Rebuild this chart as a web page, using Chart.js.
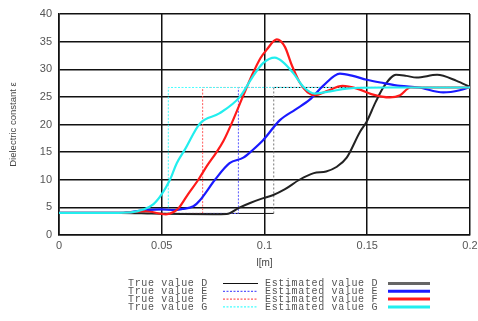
<!DOCTYPE html>
<html>
<head>
<meta charset="utf-8">
<script src="https://cdn.jsdelivr.net/npm/chart.js@4.4.0/dist/chart.umd.min.js"></script>
<style>
  body { margin: 0; background: #fff; }
</style>
</head>
<body>
<canvas id="dielChart" width="478" height="321"></canvas>
<script>
// x positions [m] and dielectric constant values
const estDX = [0, 0.03, 0.045, 0.06, 0.075, 0.0816, 0.088, 0.093, 0.098, 0.104, 0.11, 0.117, 0.124, 0.13, 0.135, 0.14, 0.1465, 0.1497, 0.154, 0.158, 0.164, 0.169, 0.174, 0.184, 0.1935, 0.2];
const estDY = [4, 4, 3.9, 3.8, 3.75, 3.8, 5, 5.8, 6.5, 7.2, 8.3, 10, 11.2, 11.5, 12.3, 14, 18.7, 20.5, 24, 26.8, 29, 28.8, 28.5, 29, 27.9, 26.8];

const estEX = [0, 0.03, 0.042, 0.05, 0.056, 0.06, 0.0654, 0.0686, 0.0759, 0.083, 0.0897, 0.094, 0.0994, 0.1075, 0.115, 0.122, 0.1285, 0.1367, 0.143, 0.1497, 0.158, 0.166, 0.175, 0.187, 0.195, 0.2];
const estEY = [4, 4, 4.5, 4.65, 4.5, 4.7, 5.2, 6.3, 10, 13, 14, 15.3, 17.2, 20.8, 22.7, 24.5, 27, 29.2, 28.8, 28.1, 27.5, 27, 26.7, 25.8, 26.2, 26.8];

const estFX = [0, 0.03, 0.042, 0.052, 0.056, 0.0585, 0.063, 0.0678, 0.072, 0.0767, 0.08, 0.0847, 0.0894, 0.094, 0.098, 0.101, 0.106, 0.11, 0.113, 0.117, 0.121, 0.1246, 0.13, 0.138, 0.145, 0.152, 0.161, 0.166, 0.171, 0.18, 0.2];
const estFY = [4, 4, 4.3, 3.75, 4.2, 5, 7.5, 10, 12.5, 15, 17, 20.8, 25, 29, 32, 33.5, 35.4, 34, 31, 27.7, 25.8, 25.3, 26, 27, 26.5, 25.5, 24.9, 25.3, 26.7, 26.7, 26.7];

const estGX = [0, 0.02, 0.035, 0.041, 0.046, 0.05, 0.054, 0.0573, 0.0613, 0.0686, 0.078, 0.088, 0.094, 0.0993, 0.105, 0.109, 0.114, 0.119, 0.1246, 0.132, 0.14, 0.16, 0.2];
const estGY = [4, 4, 4.1, 4.6, 5.6, 7.4, 10, 13, 15.5, 20.2, 22, 25, 28.5, 31.1, 32.1, 31.3, 29.3, 26.8, 25.6, 26, 26.5, 26.7, 26.7];

// true profiles: low value, step position, high value
const trueLow = 3.9;
const trueHigh = 26.7;
const stepD = 0.1045;
const stepE = 0.0873;
const stepF = 0.0699;
const stepG = 0.0532;
const xEnd = 0.2;

const xTicks = [0, 0.05, 0.1, 0.15, 0.2];

function pts(xs, ys) {
  return xs.map((x, i) => ({ x: x, y: ys[i] }));
}
function stepPts(s) {
  return pts([0, s, s, xEnd], [trueLow, trueLow, trueHigh, trueHigh]);
}

const vertDash = {
  borderDash: ctx => ctx.p0.parsed.x === ctx.p1.parsed.x ? [2, 2] : undefined,
  borderColor: ctx => ctx.p0.parsed.x === ctx.p1.parsed.x ? '#777' : undefined
};

const datasets = [
  { label: 'Estimated value G', data: pts(estGX, estGY), borderColor: '#22eeee', borderWidth: 2.2, cubicInterpolationMode: 'monotone' },
  { label: 'Estimated value F', data: pts(estFX, estFY), borderColor: '#ff1a1a', borderWidth: 2.2, cubicInterpolationMode: 'monotone' },
  { label: 'Estimated value E', data: pts(estEX, estEY), borderColor: '#1a1aff', borderWidth: 2.2, cubicInterpolationMode: 'monotone' },
  { label: 'Estimated value D', data: pts(estDX, estDY), borderColor: '#222', borderWidth: 2, cubicInterpolationMode: 'monotone', legendColor: '#666', legendWidth: 3 },
  { label: 'True value G', data: stepPts(stepG), borderColor: '#44ffff', borderWidth: 1, borderDash: [2, 1.5], tension: 0 },
  { label: 'True value F', data: stepPts(stepF), borderColor: '#ff5a5a', borderWidth: 1, borderDash: [2, 1.5], tension: 0 },
  { label: 'True value E', data: stepPts(stepE), borderColor: '#5a5aff', borderWidth: 1, borderDash: [2, 1.5], tension: 0 },
  { label: 'True value D', data: stepPts(stepD), borderColor: '#111', borderWidth: 1, tension: 0, segment: vertDash }
];
datasets.forEach(d => { d.pointRadius = 0; d.fill = false; });

// two-column legend: text first, then the line sample
const legendRows = ['D', 'E', 'F', 'G'];
const sideLegend = {
  id: 'sideLegend',
  afterDraw(chart) {
    const ctx = chart.ctx;
    ctx.save();
    ctx.font = '10px "Liberation Mono", monospace';
    ctx.letterSpacing = '0.65px';
    ctx.textBaseline = 'middle';
    ctx.fillStyle = '#555';
    legendRows.forEach((k, r) => {
      const y = 283.5 + r * 7.8;
      const cols = [
        { name: 'True value ' + k, tx: 128, lx0: 223, lx1: 258 },
        { name: 'Estimated value ' + k, tx: 265, lx0: 388, lx1: 430 }
      ];
      cols.forEach(c => {
        const ds = chart.data.datasets.find(d => d.label === c.name);
        ctx.fillText(c.name, c.tx, y);
        ctx.beginPath();
        ctx.strokeStyle = ds.legendColor || ds.borderColor;
        ctx.lineWidth = ds.legendWidth || (ds.borderWidth > 1.5 ? 3 : 1.2);
        ctx.setLineDash(ds.borderDash || []);
        ctx.moveTo(c.lx0, y);
        ctx.lineTo(c.lx1, y);
        ctx.stroke();
      });
    });
    ctx.restore();
  }
};

new Chart(document.getElementById('dielChart').getContext('2d'), {
  type: 'line',
  data: { datasets: datasets },
  options: {
    responsive: false,
    animation: false,
    layout: { padding: { top: 14, right: 8, bottom: 52, left: 0 } },
    plugins: { legend: { display: false }, tooltip: { enabled: false } },
    scales: {
      x: {
        type: 'linear',
        min: 0,
        max: 0.2,
        afterBuildTicks: s => { s.ticks = xTicks.map(v => ({ value: v })); },
        afterFit: s => { s.height = 34; s.paddingRight = 0; },
        grid: { color: '#111', lineWidth: 1.5, drawTicks: false },
        border: { color: '#111', width: 1.6 },
        ticks: { color: '#555', font: { family: 'Liberation Sans', size: 11 }, padding: 4, maxRotation: 0,
                 callback: v => String(v) },
        title: { display: true, text: 'l[m]', color: '#444', font: { family: 'Liberation Sans', size: 10 }, padding: { top: 2, bottom: 0 } }
      },
      y: {
        min: 0,
        max: 40,
        afterFit: s => { s.width = 59; },
        grid: { color: '#111', lineWidth: 1.5, drawTicks: false },
        border: { color: '#111', width: 1.6 },
        ticks: { stepSize: 5, color: '#555', font: { family: 'Liberation Sans', size: 11 }, padding: 7 },
        title: { display: true, text: 'Dielectric constant ε', color: '#444', font: { family: 'Liberation Sans', size: 9.5 }, padding: { top: 8, bottom: 6 } }
      }
    }
  },
  plugins: [sideLegend]
});
</script>
</body>
</html>
